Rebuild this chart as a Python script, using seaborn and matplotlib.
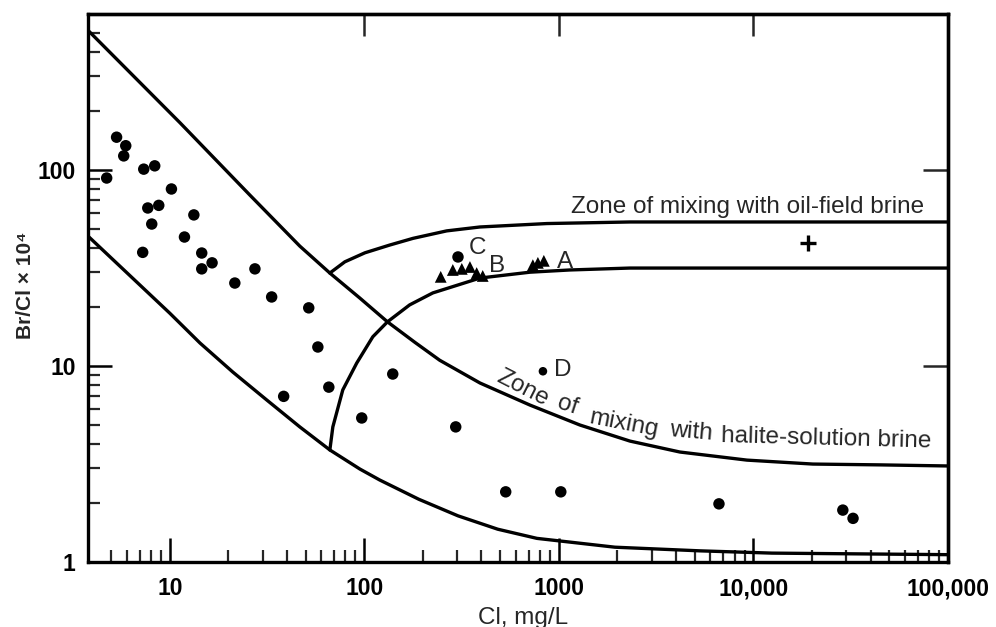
import matplotlib
matplotlib.use("Agg")
import matplotlib.pyplot as plt
import seaborn as sns
from matplotlib.ticker import FixedLocator, FixedFormatter, NullFormatter, NullLocator

# samples: Cl (mg/L) and Br/Cl x 10^4
dot_cl = [4.74, 5.33, 5.94, 5.80, 7.35, 8.37, 10.2, 7.71, 8.78, 8.08, 13.3, 11.9,
          7.26, 14.6, 14.6, 16.5, 27.4, 21.6, 33.4, 51.8, 57.7, 65.7, 38.5, 97,
          140, 295, 533, 1023, 6650, 28800, 32500, 303]
dot_brcl = [91, 147, 133, 118, 101, 105, 80, 64, 66, 53, 59, 45.5,
            38, 37.7, 31.3, 33.6, 31.3, 26.5, 22.5, 19.8, 12.5, 7.8, 7.0, 5.43,
            9.1, 4.89, 2.28, 2.28, 1.98, 1.84, 1.67, 36.0]
d_cl = [828]
d_brcl = [9.4]
tri_cl = [247, 285, 317, 349, 378, 406, 735, 780, 837]
tri_brcl = [28.5, 30.9, 31.3, 32.0, 29.8, 28.8, 32.7, 33.6, 34.4]
plus_cl = [19000]
plus_brcl = [42.5]

# boundary curves
halite_up_cl = [3.8, 11.3, 25.8, 46.6, 66.5, 94.9, 131.5, 182, 244, 393, 710, 1282,
                2317, 4188, 9260, 20200, 44650, 100000]
halite_up_brcl = [516, 174, 74.5, 40.9, 29.8, 22.2, 16.8, 13.2, 10.7, 8.19, 6.32, 5.00,
                  4.14, 3.64, 3.31, 3.16, 3.13, 3.09]
halite_low_cl = [3.8, 10.0, 14.3, 21.1, 31.5, 46.6, 66.5, 94.9, 120, 190.5, 303, 485,
                 771, 1941, 5310, 12450, 100000]
halite_low_brcl = [46.0, 18.6, 13.1, 9.31, 6.71, 4.89, 3.73, 2.98, 2.62, 2.09, 1.72, 1.47,
                   1.32, 1.19, 1.14, 1.11, 1.09]
oil_low_cl = [66.5, 68.9, 77.5, 91.4, 110.6, 131.5, 171, 225, 393, 710, 1140, 2317, 100000]
oil_low_brcl = [3.73, 4.89, 7.55, 10.35, 14.1, 16.8, 20.5, 23.6, 28.1, 30.1, 30.9, 31.6, 31.6]
oil_up_cl = [66.5, 79.4, 100.7, 135, 178, 265, 393, 867, 2317, 100000]
oil_up_brcl = [29.8, 34.0, 37.8, 41.4, 44.8, 48.9, 51.2, 53.3, 54.3, 54.3]

x_ticks = [10, 100, 1000, 10000, 100000]
x_tick_labels = ["10", "100", "1000", "10,000", "100,000"]
y_ticks = [1, 10, 100]
y_tick_labels = ["1", "10", "100"]


def main():
    sns.set_style("white")
    plt.rcParams["font.family"] = ["Liberation Sans", "DejaVu Sans"]

    fig, ax = plt.subplots(figsize=(9.96, 6.27), dpi=100)
    fig.subplots_adjust(left=88 / 996, right=948 / 996, bottom=1 - 562 / 627, top=1 - 14 / 627)
    ax.set_xscale("log")
    ax.set_yscale("log")

    curves = [(halite_up_cl, halite_up_brcl), (halite_low_cl, halite_low_brcl),
              (oil_low_cl, oil_low_brcl), (oil_up_cl, oil_up_brcl)]
    for cl, br in curves:
        sns.lineplot(x=cl, y=br, ax=ax, color="black", linewidth=2.4, sort=False, estimator=None)

    sns.scatterplot(x=dot_cl, y=dot_brcl, ax=ax, marker="o", s=68, color="black",
                    edgecolor="none", zorder=3)
    sns.scatterplot(x=d_cl, y=d_brcl, ax=ax, marker="o", s=38, color="black",
                    edgecolor="none", zorder=3)
    sns.scatterplot(x=tri_cl, y=tri_brcl, ax=ax, marker="^", s=72, color="black",
                    edgecolor="none", zorder=3)
    sns.scatterplot(x=plus_cl, y=plus_brcl, ax=ax, marker="+", s=130, color="black",
                    linewidth=2.4, zorder=3)

    ax.set_xlim(3.8, 100000)
    ax.set_ylim(1, 625)

    x_minor = [m * 10 ** e for e in range(0, 5) for m in range(2, 10) if 5 <= m * 10 ** e < 100000]
    y_minor = [m * 10 ** e for e in range(0, 3) for m in range(2, 10) if m * 10 ** e <= 500]
    ax.xaxis.set_major_locator(FixedLocator(x_ticks))
    ax.xaxis.set_major_formatter(FixedFormatter(x_tick_labels))
    ax.xaxis.set_minor_locator(FixedLocator(x_minor))
    ax.xaxis.set_minor_formatter(NullFormatter())
    ax.yaxis.set_major_locator(FixedLocator(y_ticks))
    ax.yaxis.set_major_formatter(FixedFormatter(y_tick_labels))
    ax.yaxis.set_minor_locator(FixedLocator(y_minor))
    ax.yaxis.set_minor_formatter(NullFormatter())
    ax.tick_params(which="major", direction="in", length=17, width=1.8, labelsize=16.5,
                   colors="black", bottom=True, left=True)
    ax.tick_params(axis="x", which="major", pad=11)
    ax.tick_params(axis="y", which="major", pad=9)
    ax.tick_params(which="minor", direction="in", length=8.5, width=1.6, bottom=True, left=True)
    for lab in ax.get_xticklabels() + ax.get_yticklabels():
        lab.set_fontweight("bold")

    top = ax.secondary_xaxis("top")
    top.xaxis.set_major_locator(FixedLocator([100, 1000, 10000]))
    top.xaxis.set_major_formatter(NullFormatter())
    top.xaxis.set_minor_locator(NullLocator())
    top.tick_params(direction="in", length=16, width=1.8)
    right = ax.secondary_yaxis("right")
    right.yaxis.set_major_locator(FixedLocator([10, 100]))
    right.yaxis.set_major_formatter(NullFormatter())
    right.yaxis.set_minor_locator(NullLocator())
    right.tick_params(direction="in", length=18, width=1.8)

    for sp in list(ax.spines.values()) + [top.spines["top"], right.spines["right"]]:
        sp.set_linewidth(2.4)
        sp.set_color("black")

    ax.text(0.767, 0.637, "Zone of mixing with oil-field brine", transform=ax.transAxes,
            ha="center", va="baseline", fontsize=17.5)
    words = [("Zone", 0.505, 0.318, -27), ("of", 0.557, 0.286, -18), ("mixing", 0.623, 0.252, -11),
             ("with", 0.701, 0.238, -5), ("halite-solution brine", 0.859, 0.224, -1.5)]
    for w, fx, fy, rot in words:
        ax.text(fx, fy, w, transform=ax.transAxes, rotation=rot, rotation_mode="anchor",
                ha="center", va="center", fontsize=17.5)
    for letter, fx, fy in [("C", 0.453, 0.573), ("B", 0.476, 0.540), ("A", 0.555, 0.547),
                           ("D", 0.552, 0.350)]:
        ax.text(fx, fy, letter, transform=ax.transAxes, ha="center", va="center", fontsize=17.5)

    ax.set_xlabel("Cl, mg/L", fontsize=17.5)
    ax.xaxis.set_label_coords(0.506, -0.082)
    ax.set_ylabel("Br/Cl × 10⁴", fontsize=15, fontweight="bold")
    ax.yaxis.set_label_coords(-0.062, 0.505)

    fig.savefig("out.png", dpi=100)
    plt.close(fig)


if __name__ == "__main__":
    main()
